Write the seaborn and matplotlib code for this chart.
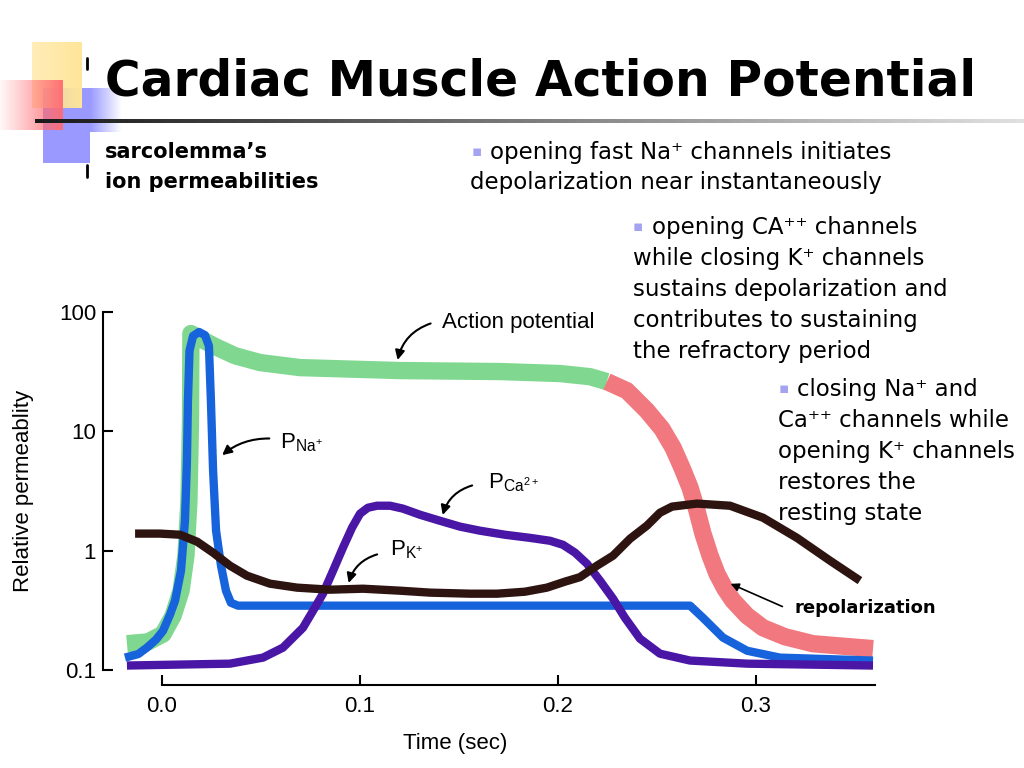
import numpy as np
import matplotlib
matplotlib.use('Agg')
import matplotlib.pyplot as plt
import seaborn as sns
from matplotlib.ticker import NullLocator, FixedLocator


# Cardiac muscle action potential slide: ion permeabilities over one beat
# values, time in seconds, permeability on a log scale

ap_time = [-0.0177, -0.0071, 0.0005, 0.0056, 0.0096, 0.0121, 0.0136, 0.0144, 0.0146,
           0.0192, 0.0268, 0.0369, 0.0495, 0.0697, 0.1202, 0.1707, 0.2010, 0.2162, 0.2247]
ap_perm = [0.166, 0.172, 0.20, 0.285, 0.46, 0.91, 2.62, 12.3, 66,
           60, 51.4, 43, 37.7, 34.2, 32.3, 31.7, 30.5, 28.7, 26.1]

repol_time = [0.2247, 0.2348, 0.2449, 0.2525, 0.2581, 0.2626, 0.2667, 0.2702, 0.2732,
              0.2768, 0.2803, 0.2843, 0.2884, 0.2955, 0.3035, 0.3146, 0.3288, 0.3591]
repol_perm = [26.1, 21.9, 14.9, 10.5, 7.30, 4.96, 3.37, 2.16, 1.39,
              0.908, 0.641, 0.480, 0.381, 0.285, 0.226, 0.190, 0.166, 0.151]

na_time = [-0.0187, -0.0120, -0.0076, -0.0030, 0.0005, 0.0040, 0.0066, 0.0096, 0.0116,
           0.0126, 0.0131, 0.0139, 0.0157, 0.0187, 0.0217, 0.0237, 0.0247, 0.0258,
           0.0273, 0.0298, 0.0323, 0.0348, 0.0384, 0.1500, 0.2667, 0.2732, 0.2833,
           0.2955, 0.3121, 0.3591]
na_perm = [0.127, 0.136, 0.154, 0.180, 0.213, 0.29, 0.381, 0.68, 1.78,
           5.7, 18.1, 47.5, 63, 68, 64, 52, 18.1, 4.69,
           1.47, 0.749, 0.462, 0.366, 0.346, 0.346, 0.346, 0.274, 0.187,
           0.145, 0.127, 0.120]

ca_time = [-0.0177, 0.0343, 0.0510, 0.0611, 0.0712, 0.0763, 0.0813, 0.0864, 0.0914,
           0.0960, 0.1000, 0.1040, 0.1086, 0.1152, 0.1217, 0.1303, 0.1404, 0.1505,
           0.1606, 0.1732, 0.1859, 0.1960, 0.2025, 0.2086, 0.2146, 0.2212, 0.2278,
           0.2338, 0.2414, 0.2515, 0.2667, 0.2955, 0.3591]
ca_perm = [0.109, 0.113, 0.127, 0.154, 0.226, 0.314, 0.436, 0.68, 1.06,
           1.56, 2.04, 2.29, 2.38, 2.38, 2.25, 2.0, 1.78, 1.59,
           1.47, 1.36, 1.28, 1.21, 1.12, 0.962, 0.778, 0.561, 0.396,
           0.274, 0.183, 0.137, 0.120, 0.113, 0.109]

k_time = [-0.0136, -0.0010, 0.0091, 0.0177, 0.0258, 0.0343, 0.0429, 0.0545, 0.0682,
          0.0848, 0.1015, 0.1202, 0.1354, 0.1556, 0.1692, 0.1833, 0.1944, 0.2035,
          0.2111, 0.2197, 0.2278, 0.2364, 0.2449, 0.2515, 0.2576, 0.2702, 0.2869,
          0.3035, 0.3207, 0.3374, 0.3525]
k_perm = [1.39, 1.39, 1.36, 1.19, 0.962, 0.749, 0.617, 0.529, 0.490,
          0.471, 0.480, 0.462, 0.445, 0.436, 0.436, 0.453, 0.490, 0.55,
          0.60, 0.749, 0.908, 1.26, 1.62, 2.08, 2.34, 2.48, 2.38,
          1.89, 1.28, 0.824, 0.561]

y_ticks = [0.1, 1, 10, 100]
y_labels = ['0.1', '1', '10', '100']
x_ticks = [0.0, 0.1, 0.2, 0.3]
x_labels = ['0.0', '0.1', '0.2', '0.3']

bullet_1 = ['opening fast Na\u207a channels initiates',
            'depolarization near instantaneously']
bullet_2 = ['opening CA\u207a\u207a channels',
            'while closing K\u207a channels',
            'sustains depolarization and',
            'contributes to sustaining',
            'the refractory period']
bullet_3 = ['closing Na\u207a and',
            'Ca\u207a\u207a channels while',
            'opening K\u207a channels',
            'restores the',
            'resting state']


def fx(px):
    return px / 1024.0


def fy(py):
    return 1 - py / 768.0


def fade(rgb, a0, a1, n=64):
    arr = np.zeros((1, n, 4))
    arr[..., :3] = rgb
    arr[..., 3] = np.linspace(a0, a1, n)
    return arr


sns.set_style('ticks')
plt.rcParams['font.family'] = ['Liberation Sans', 'DejaVu Sans']
plt.rcParams['mathtext.fontset'] = 'custom'
plt.rcParams['mathtext.rm'] = 'Liberation Sans'
plt.rcParams['text.color'] = 'black'
plt.rcParams['axes.labelcolor'] = 'black'
plt.rcParams['xtick.color'] = 'black'
plt.rcParams['ytick.color'] = 'black'

fig = plt.figure(figsize=(10.24, 7.68), dpi=100)
fig.patch.set_facecolor('white')

# slide decoration (squares, rule line)
bg = fig.add_axes([0, 0, 1, 1])
bg.imshow([[[0.6, 0.6, 1.0, 1.0]]], extent=[43, 90, 163, 88], aspect='auto', zorder=1)
bg.imshow(fade((0.6, 0.6, 1.0), 1.0, 0.0), extent=[90, 122, 132, 88], aspect='auto', zorder=1)
bg.imshow(fade((1.0, 0.9, 0.6), 0.7, 1.0), extent=[32, 82, 108, 42], aspect='auto', zorder=2)
bg.imshow(fade((1.0, 0.42, 0.45), 0.05, 0.95), extent=[0, 63, 130, 80], aspect='auto', zorder=3)
grey = np.zeros((1, 128, 3))
grey[..., :] = np.linspace(0.1, 0.88, 128)[None, :, None]
bg.imshow(grey, extent=[35, 1024, 123, 119], aspect='auto', zorder=4)
bg.plot([87, 87], [58, 69], color='black', lw=2, zorder=5)
bg.plot([87, 87], [165, 177], color='black', lw=2, zorder=5)
bg.set_xlim(0, 1024)
bg.set_ylim(768, 0)
bg.axis('off')

# slide text
fig.text(fx(105), fy(95), 'Cardiac Muscle Action Potential', fontsize=35,
         fontweight='bold', family='DejaVu Sans', va='baseline')
fig.text(fx(105), fy(158), 'sarcolemma\u2019s', fontsize=15, fontweight='bold',
         family='DejaVu Sans', va='baseline')
fig.text(fx(105), fy(188), 'ion permeabilities', fontsize=15, fontweight='bold',
         family='DejaVu Sans', va='baseline')

bullet_color = '#a3a3f2'
body = dict(fontsize=16.5, family='DejaVu Sans', va='baseline')
fig.text(fx(472), fy(156), '\u25aa', color=bullet_color, fontsize=11, family='DejaVu Sans', va='baseline')
fig.text(fx(490), fy(159), bullet_1[0], **body)
fig.text(fx(470), fy(189), bullet_1[1], **body)

fig.text(fx(633), fy(231), '\u25aa', color=bullet_color, fontsize=11, family='DejaVu Sans', va='baseline')
fig.text(fx(652), fy(234), bullet_2[0], **body)
for i, line in enumerate(bullet_2[1:]):
    fig.text(fx(633), fy(265 + 31 * i), line, **body)

fig.text(fx(779), fy(393), '\u25aa', color=bullet_color, fontsize=11, family='DejaVu Sans', va='baseline')
fig.text(fx(797), fy(396), bullet_3[0], **body)
for i, line in enumerate(bullet_3[1:]):
    fig.text(fx(778), fy(427 + 31 * i), line, **body)

# the chart
ax = fig.add_axes([122.4 / 1024, 98 / 768, 762.3 / 1024, 358 / 768])
ax.patch.set_alpha(0)
ax.set_yscale('log')

sns.lineplot(x=ap_time, y=ap_perm, ax=ax, color='#80d890', linewidth=12.5,
             estimator=None, sort=False, solid_joinstyle='round', solid_capstyle='butt')
sns.lineplot(x=repol_time, y=repol_perm, ax=ax, color='#f0787e', linewidth=12.5,
             estimator=None, sort=False, solid_joinstyle='round', solid_capstyle='butt')
sns.lineplot(x=na_time, y=na_perm, ax=ax, color='#1763dc', linewidth=6,
             estimator=None, sort=False, solid_joinstyle='round', solid_capstyle='butt')
sns.lineplot(x=ca_time, y=ca_perm, ax=ax, color='#4a16a6', linewidth=6,
             estimator=None, sort=False, solid_joinstyle='round', solid_capstyle='butt')
sns.lineplot(x=k_time, y=k_perm, ax=ax, color='#2e1410', linewidth=6,
             estimator=None, sort=False, solid_joinstyle='round', solid_capstyle='butt')

ax.set_xlim(-0.02, 0.365)
ax.set_ylim(0.1, 100)
ax.yaxis.set_major_locator(FixedLocator(y_ticks))
ax.yaxis.set_minor_locator(NullLocator())
ax.set_yticklabels(y_labels)
ax.set_xticks(x_ticks)
ax.set_xticklabels(x_labels)
ax.tick_params(direction='in', length=7, width=1.5, labelsize=16, color='black', labelcolor='black')
ax.tick_params(axis='y', pad=5)
ax.tick_params(axis='x', pad=8)

sns.despine(ax=ax)
ax.spines['left'].set_position(('outward', 14))
ax.spines['bottom'].set_position(('outward', 10.8))
ax.spines['left'].set_bounds(0.1, 100)
ax.spines['bottom'].set_bounds(0.0, 0.36)
for side in ['left', 'bottom']:
    ax.spines[side].set_linewidth(1.5)
    ax.spines[side].set_color('black')

ax.set_ylabel('Relative permeablity', fontsize=16)
ax.yaxis.set_label_coords(-0.116, 0.5)
ax.set_xlabel('Time (sec)', fontsize=16)
ax.xaxis.set_label_coords(0.436, -0.176)

# curve labels and their arrows
arrow = dict(arrowstyle='-|>', color='black', lw=1.5, mutation_scale=14)
ax.text(0.1414, 81.5, 'Action potential', fontsize=16, ha='left', va='center')
ax.annotate('', xy=(0.1187, 37.6), xytext=(0.137, 81.5),
            arrowprops=dict(connectionstyle='arc3,rad=0.3', **arrow))
ax.text(0.0596, 7.16, r'$\mathregular{P_{Na^{+}}}$', fontsize=16, ha='left', va='baseline')
ax.annotate('', xy=(0.0293, 6.1), xytext=(0.0556, 8.7),
            arrowprops=dict(connectionstyle='arc3,rad=0.2', **arrow))
ax.text(0.1646, 3.31, r'$\mathregular{P_{Ca^{2+}}}$', fontsize=16, ha='left', va='baseline')
ax.annotate('', xy=(0.1414, 1.89), xytext=(0.158, 3.57),
            arrowprops=dict(connectionstyle='arc3,rad=0.3', **arrow))
ax.text(0.1152, 0.908, r'$\mathregular{P_{K^{+}}}$', fontsize=16, ha='left', va='baseline')
ax.annotate('', xy=(0.0939, 0.509), xytext=(0.110, 0.944),
            arrowprops=dict(connectionstyle='arc3,rad=0.3', **arrow))

fig.text(fx(794), fy(613), 'repolarization', fontsize=13, fontweight='bold',
         family='DejaVu Sans', va='baseline')
ax.annotate('', xy=(0.2859, 0.539), xytext=(0.3146, 0.333),
            arrowprops=dict(arrowstyle='-|>', color='black', lw=1.2, mutation_scale=12))

fig.savefig('out.png', dpi=100)
